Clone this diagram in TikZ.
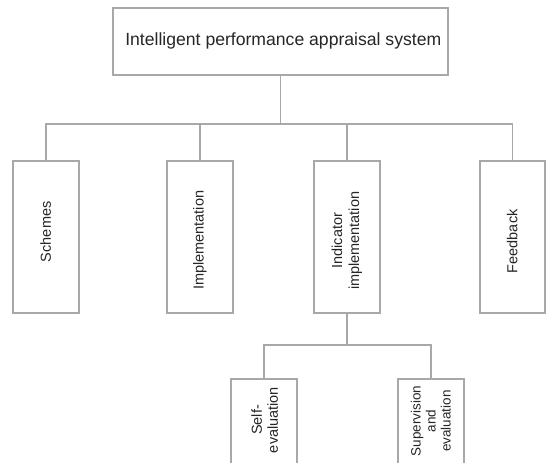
\documentclass[tikz,border=0pt]{standalone}
\usepackage{fontspec}
\setmainfont{Liberation Sans}
\begin{document}
\begin{tikzpicture}[x=1pt,y=-1pt,
  box/.style={draw=boxgray, line width=1.6pt, fill=white, inner sep=0pt, anchor=north west},
  link/.style={draw=boxgray, line width=1.6pt},
  vlabel/.style={rotate=90, align=center, font=\fontsize{14.5}{17}\selectfont, text=black!85},
  ]
\definecolor{boxgray}{HTML}{A8A8A8}
\useasboundingbox (0,0) rectangle (546,463);
\fill[white] (0,0) rectangle (546,463);

% root
\node[box, minimum width=335pt, minimum height=67pt] (root) at (112,7) {};
\node[font=\fontsize{17.6}{20}\selectfont, text=black!85] at ([xshift=3pt]root.center) {Intelligent performance appraisal system};

% second level
\node[box, minimum width=66pt, minimum height=152pt] (schemes) at (12,160) {};
\node[box, minimum width=66pt, minimum height=152pt] (impl) at (166,160) {};
\node[box, minimum width=66pt, minimum height=152pt] (indic) at (313,160) {};
\node[box, minimum width=65pt, minimum height=152pt] (feed) at (479,160) {};

\node[vlabel] at ([yshift=5pt]schemes.center) {Schemes};
\node[vlabel] at ([yshift=-3.5pt]impl.center) {Implementation};
\node[vlabel] at ([yshift=-4pt]indic.center) {Indicator\\implementation};
\node[vlabel] at ([yshift=-4.5pt]feed.center) {Feedback};

% third level
\node[box, minimum width=66pt, minimum height=90pt] (self) at (230,378) {};
\node[box, minimum width=66pt, minimum height=90pt] (sup) at (397,378) {};
\node[vlabel, font=\fontsize{14.5}{16}\selectfont] at ([xshift=1pt]self.center |- 0,420) {Self-\\evaluation};
\node[vlabel, font=\fontsize{13.5}{15}\selectfont] at (sup.center |- 0,421) {Supervision\\and\\evaluation};

% connectors
\coordinate (bus) at (0,124);
\coordinate (bus2) at (0,345);
\draw[link] (root.south) -- (root.south |- bus);
\draw[link] (schemes.north) -- (schemes.north |- bus) -| (feed.north);
\draw[link] (impl.north) -- (impl.north |- bus);
\draw[link] (indic.north) -- (indic.north |- bus);
\draw[link] (indic.south) -- (indic.south |- bus2);
\draw[link] (self.north) -- (self.north |- bus2) -| (sup.north);
\end{tikzpicture}
\end{document}
